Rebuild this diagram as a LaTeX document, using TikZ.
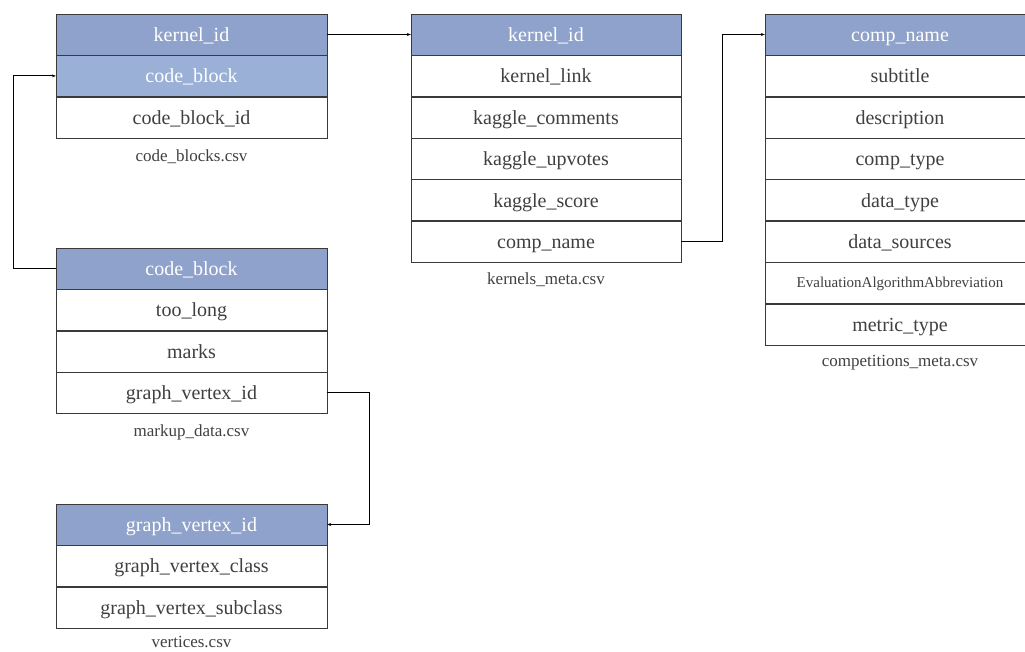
\documentclass[tikz,border=0pt]{standalone}
\usepackage{fontspec}
\setmainfont{Liberation Serif}
\usetikzlibrary{positioning, calc, arrows.meta}

\definecolor{hdrblue}{HTML}{8FA2CB}
\definecolor{keyblue}{HTML}{9AB0D6}
\definecolor{rulegray}{HTML}{3A3A3A}
\definecolor{txtgray}{HTML}{404040}

\begin{document}
\begin{tikzpicture}[
    x=1pt, y=1pt,
    node distance=0pt,
    field/.style={rectangle, draw=rulegray, fill=white, text=txtgray, minimum width=271pt, minimum height=41pt, inner sep=0pt, text height=17pt, text depth=3pt, font=\fontsize{20}{24}\selectfont},
    header/.style={field, fill=hdrblue, text=white},
    keyrow/.style={field, fill=keyblue, text=white},
    caption/.style={text=txtgray, text height=11pt, text depth=3pt, inner sep=0pt, font=\fontsize{17}{20}\selectfont},
    link/.style={draw=black, -{Stealth[length=4pt, width=3pt]}, line width=0.8pt}
]
\clip (0,0) rectangle (1025,651);

% code_blocks.csv
\node [header] (cb_kernel) at (191.5,616.5) {kernel\_id};
\node [keyrow, below=of cb_kernel] (cb_block) {code\_block};
\node [field, below=of cb_block] (cb_id) {code\_block\_id};
\node [caption] (cb_cap) at ($(cb_id.south)+(0,-20)$) {code\_blocks.csv};

% kernels_meta.csv
\node [header, minimum width=270pt] (km_kernel) at (546,616.5) {kernel\_id};
\node [field, minimum width=270pt, below=of km_kernel] (km_link) {kernel\_link};
\node [field, minimum width=270pt, below=of km_link] (km_comments) {kaggle\_comments};
\node [field, minimum width=270pt, below=of km_comments] (km_upvotes) {kaggle\_upvotes};
\node [field, minimum width=270pt, below=of km_upvotes] (km_score) {kaggle\_score};
\node [field, minimum width=270pt, below=of km_score] (km_comp) {comp\_name};
\node [caption] (km_cap) at ($(km_comp.south)+(0,-18)$) {kernels\_meta.csv};

% competitions_meta.csv
\node [header, minimum width=270pt] (cm_name) at (900,616.5) {comp\_name};
\node [field, minimum width=270pt, below=of cm_name] (cm_subtitle) {subtitle};
\node [field, minimum width=270pt, below=of cm_subtitle] (cm_desc) {description};
\node [field, minimum width=270pt, below=of cm_desc] (cm_ctype) {comp\_type};
\node [field, minimum width=270pt, below=of cm_ctype] (cm_dtype) {data\_type};
\node [field, minimum width=270pt, below=of cm_dtype] (cm_sources) {data\_sources};
\node [field, minimum width=270pt, below=of cm_sources, font=\fontsize{15}{18}\selectfont, text height=12pt, text depth=2pt] (cm_eval) {EvaluationAlgorithmAbbreviation};
\node [field, minimum width=270pt, below=of cm_eval] (cm_metric) {metric\_type};
\node [caption] (cm_cap) at ($(cm_metric.south)+(0,-18)$) {competitions\_meta.csv};

% markup_data.csv
\node [header] (md_block) at (191.5,382.5) {code\_block};
\node [field, below=of md_block] (md_long) {too\_long};
\node [field, below=of md_long] (md_marks) {marks};
\node [field, below=of md_marks] (md_vertex) {graph\_vertex\_id};
\node [caption] (md_cap) at ($(md_vertex.south)+(0,-19)$) {markup\_data.csv};

% vertices.csv
\node [header] (vx_id) at (191.5,126.5) {graph\_vertex\_id};
\node [field, below=of vx_id] (vx_class) {graph\_vertex\_class};
\node [field, below=of vx_class] (vx_subclass) {graph\_vertex\_subclass};
\node [caption] (vx_cap) at ($(vx_subclass.south)+(0,-15)$) {vertices.csv};

% keys
\path [link] (cb_kernel) -- (km_kernel);
\path [link] (km_comp.east) -- ++(41,0) |- (cm_name.west);
\path [link] (md_block.west) -- ++(-42,0) |- (cb_block.west);
\path [link] (md_vertex.east) -- ++(42,0) |- (vx_id.east);
\end{tikzpicture}
\end{document}
